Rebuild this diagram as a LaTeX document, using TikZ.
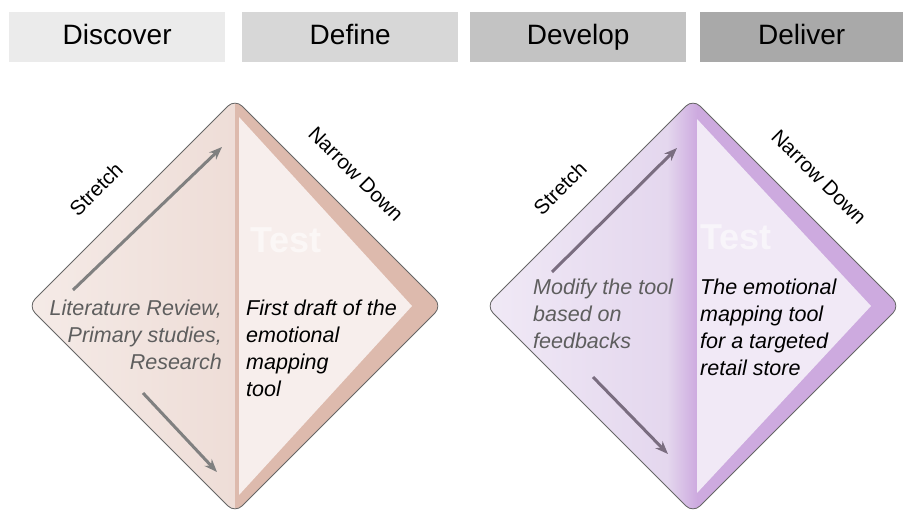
\documentclass[tikz,border=0pt]{standalone}
\usepackage{fontspec}
\setmainfont{Liberation Sans}
\usepackage{tikz}
\usetikzlibrary{calc,arrows.meta}

\definecolor{boxone}{HTML}{EBEBEB}
\definecolor{boxtwo}{HTML}{D7D7D7}
\definecolor{boxthree}{HTML}{C3C3C3}
\definecolor{boxfour}{HTML}{A9A9A9}
\definecolor{rosehalf}{HTML}{EEDDD7}
\definecolor{roseband}{HTML}{DDBAAD}
\definecolor{roseinner}{HTML}{F7EEEC}
\definecolor{lilachalf}{HTML}{E4D7EE}
\definecolor{lilacband}{HTML}{CDAADF}
\definecolor{lilacinner}{HTML}{F1E9F6}
\definecolor{lilacarrow}{HTML}{7A6D80}
\definecolor{greytext}{HTML}{5E5E5E}

\tikzset{
  phasebox/.style={fill=#1, minimum width=216, minimum height=50, inner sep=0,
    text height=20, text depth=6, font=\fontsize{28}{30}\selectfont},
  outline/.style={draw=black!60, line width=0.8, rounded corners=10},
  growarrow/.style={draw=#1, line width=3, -{Stealth[length=13,width=10]}},
  sidelabel/.style={font=\fontsize{20.5}{23}\selectfont},
  lefttext/.style={font=\fontsize{21.5}{27}\selectfont\itshape, text=greytext, inner sep=0},
  righttext/.style={font=\fontsize{21.5}{27}\selectfont\itshape, text=black, inner sep=0},
  wmark/.style={font=\fontsize{36}{40}\selectfont\bfseries, text=white, text opacity=0.55, inner sep=0}
}

\begin{document}
\begin{tikzpicture}[x=1pt,y=-1pt]
\useasboundingbox (0,0) rectangle (903,511);

% phases
\node[phasebox=boxone, anchor=north west] (discover) at (9,12) {Discover};
\node[phasebox=boxtwo, anchor=north west] (define) at (242,12) {Define};
\node[phasebox=boxthree, anchor=north west] (develop) at (470,12) {Develop};
\node[phasebox=boxfour, anchor=north west, minimum width=203] (deliver) at (700,12) {Deliver};

% first diamond
\begin{scope}
\clip[rounded corners=10] (235,99) -- (442,306) -- (235,513) -- (28,306) -- cycle;
\fill[left color=rosehalf!60, right color=rosehalf] (28,99) rectangle (235,513);
\fill[roseband] (235,99) rectangle (442,513);
\fill[roseinner] (239,117) -- (412,306) -- (239,495) -- cycle;
\clip (239,117) -- (412,306) -- (239,495) -- cycle;
\node[wmark, anchor=west] (testA) at (250,240) {Test};
\end{scope}
\draw[outline] (235,99) -- (442,306) -- (235,513) -- (28,306) -- cycle;

\coordinate (upA1) at (73,290);
\coordinate (upA2) at (222,147);
\coordinate (dnA1) at (143,393);
\coordinate (dnA2) at (217,472);
\draw[growarrow=black!50] (upA1) -- (upA2);
\draw[growarrow=black!50] (dnA1) -- (dnA2);

\node[sidelabel, rotate=45] (stretchA) at (96,189) {Stretch};
\node[sidelabel, rotate=-45] (narrowA) at (356,174) {Narrow Down};

\node[lefttext, anchor=north east, align=right] (sourcesA) at (222,300)
  {Literature Review,\\Primary studies,\\Research};
\node[righttext, anchor=north west, align=left] (resultA) at (246,300)
  {First draft of the\\emotional\\mapping\\tool};

% second diamond
\begin{scope}
\clip[rounded corners=10] (693,99) -- (900,306) -- (693,513) -- (486,306) -- cycle;
\fill[left color=lilachalf!55, right color=lilachalf] (486,99) rectangle (667,513);
\fill[left color=lilachalf, right color=lilacband] (667,99) rectangle (697,513);
\fill[lilacband] (697,99) rectangle (900,513);
\fill[lilacinner] (697,119) -- (871,306) -- (697,493) -- cycle;
\clip (697,119) -- (871,306) -- (697,493) -- cycle;
\node[wmark, anchor=west] (testB) at (700,237) {Test};
\end{scope}
\draw[outline] (693,99) -- (900,306) -- (693,513) -- (486,306) -- cycle;

\coordinate (upB1) at (552,272);
\coordinate (upB2) at (677,148);
\coordinate (dnB1) at (593,377);
\coordinate (dnB2) at (668,454);
\draw[growarrow=lilacarrow] (upB1) -- (upB2);
\draw[growarrow=lilacarrow] (dnB1) -- (dnB2);

\node[sidelabel, rotate=45] (stretchB) at (560,188) {Stretch};
\node[sidelabel, rotate=-45] (narrowB) at (819,177) {Narrow Down};

\node[lefttext, anchor=north west, align=left] (sourcesB) at (533,279)
  {Modify the tool\\based on\\feedbacks};
\node[righttext, anchor=north west, align=left] (resultB) at (700,279)
  {The emotional\\mapping tool\\for a targeted\\retail store};
\end{tikzpicture}
\end{document}
